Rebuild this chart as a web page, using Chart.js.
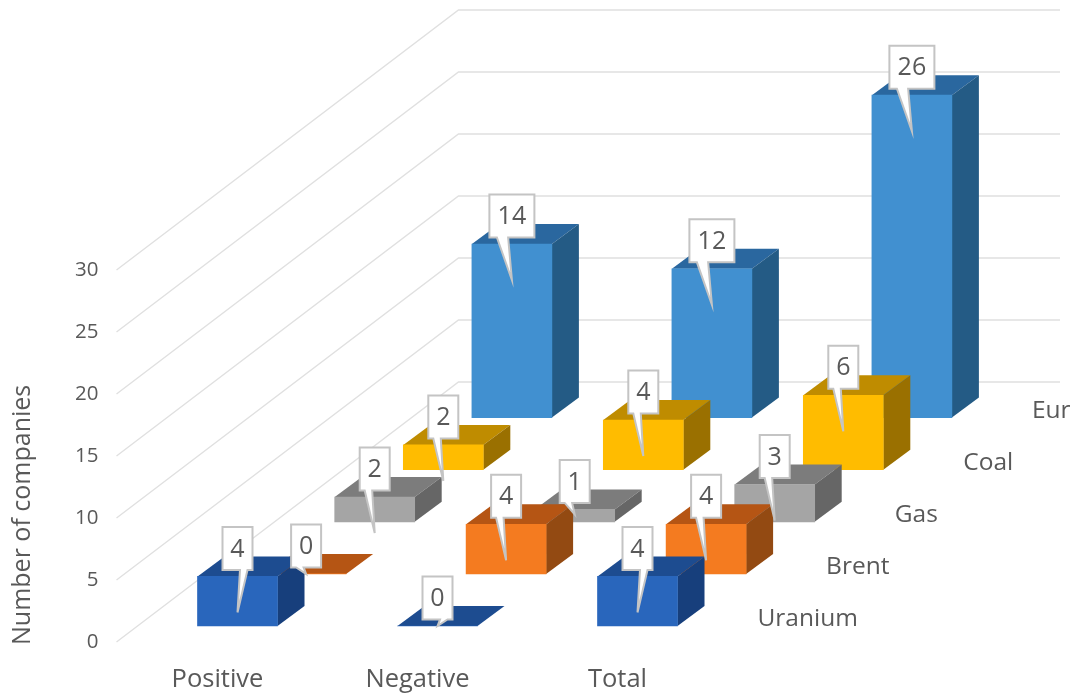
<!DOCTYPE html>
<html>
<head>
<meta charset="utf-8">
<title>Number of companies</title>
<script src="https://cdn.jsdelivr.net/npm/chart.js@4"></script>
<style>
  html, body { margin: 0; padding: 0; background: #fff; }
  canvas { display: block; }
</style>
</head>
<body>
<canvas id="chart" width="1070" height="695"></canvas>
<script>
const categories = ["Positive", "Negative", "Total"];
const seriesNames = ["Uranium", "Brent", "Gas", "Coal", "Eur"];
const uranium = [4, 0, 4];
const brent = [0, 4, 4];
const gas = [2, 1, 3];
const coal = [2, 4, 6];
const eur = [14, 12, 26];
const yTicks = [0, 5, 10, 15, 20, 25, 30];

const seriesValues = [uranium, brent, gas, coal, eur];
const frontColors = ["#2966BC", "#F47B20", "#A5A5A5", "#FFBC00", "#4190D0"];
const topColors = ["#1D4C90", "#B55514", "#7C7C7C", "#BF8C00", "#2A679F"];
const sideColors = ["#173F7C", "#934A12", "#666666", "#9A7000", "#245B85"];

const TEXT = "#595959";
const FONT = '"Open Sans"';

// offset of each row going back into the picture
function rowX(i) { return 20 + 68.6 * i; }
function rowY(i) { return -16 - 52.1 * i; }
const BOX_DX = 27, BOX_DY = -20; // depth of one bar
const WALL_DX = 342, WALL_DY = -260, WALL_END = 1060;

function face(ctx, pts, color) {
  ctx.beginPath();
  pts.forEach((p, i) => (i ? ctx.lineTo(p[0], p[1]) : ctx.moveTo(p[0], p[1])));
  ctx.closePath();
  ctx.fillStyle = color;
  ctx.fill();
}

// white callout with a tail, the tail points at the bar
function callout(ctx, text, cx, top, value, tailRight) {
  ctx.font = "25px " + FONT;
  const w = text.length > 1 ? 45 : 30;
  const h = 43;
  const x = cx - w / 2, y = top - 49.5;
  const drop = value >= 2 ? 36 : value === 1 ? 5 : 0;
  const b1 = x + w * (tailRight ? 7 / 12 : 1 / 6);
  const b2 = x + w * (tailRight ? 5 / 6 : 5 / 12);
  ctx.beginPath();
  ctx.moveTo(x, y);
  ctx.lineTo(x + w, y);
  ctx.lineTo(x + w, y + h);
  ctx.lineTo(b2, y + h);
  ctx.lineTo(cx, top + drop);
  ctx.lineTo(b1, y + h);
  ctx.lineTo(x, y + h);
  ctx.closePath();
  ctx.fillStyle = "#fff";
  ctx.fill();
  ctx.strokeStyle = "#C4C4C4";
  ctx.lineWidth = 2;
  ctx.stroke();
  ctx.fillStyle = TEXT;
  ctx.textAlign = "center";
  ctx.textBaseline = "middle";
  ctx.fillText(text, cx, y + h / 2 + 1);
}

const depthPlugin = {
  id: "depth",
  // the slanted grid on the side wall and the back wall
  beforeDatasetsDraw(chart) {
    const { ctx, scales } = chart;
    ctx.save();
    ctx.strokeStyle = "#E0E0E0";
    ctx.lineWidth = 1.4;
    yTicks.forEach((t) => {
      const y = scales.y.getPixelForValue(t);
      const x = scales.x.left - 1;
      ctx.beginPath();
      ctx.moveTo(x, y);
      ctx.lineTo(x + WALL_DX, y + WALL_DY);
      ctx.lineTo(WALL_END, y + WALL_DY);
      ctx.stroke();
    });
    ctx.restore();
  },
  // shift each row back, top and side go under the front face
  beforeDatasetDraw(chart, args) {
    const { ctx } = chart;
    const i = args.index;
    ctx.save();
    ctx.translate(rowX(i), rowY(i));
    args.meta.data.forEach((bar) => {
      const l = bar.x - bar.width / 2, r = bar.x + bar.width / 2;
      face(ctx, [[l, bar.y], [r, bar.y], [r + BOX_DX, bar.y + BOX_DY], [l + BOX_DX, bar.y + BOX_DY]], topColors[i]);
      if (bar.base - bar.y > 0.5) {
        face(ctx, [[r, bar.y], [r + BOX_DX, bar.y + BOX_DY], [r + BOX_DX, bar.base + BOX_DY], [r, bar.base]], sideColors[i]);
      }
    });
  },
  afterDatasetDraw(chart) {
    chart.ctx.restore();
  },
  // value callouts and row names on top of all the bars
  afterDatasetsDraw(chart) {
    const { ctx, scales } = chart;
    ctx.save();
    for (let i = seriesNames.length - 1; i >= 0; i--) {
      const meta = chart.getDatasetMeta(i);
      meta.data.forEach((bar, j) => {
        callout(ctx, String(seriesValues[i][j]), bar.x + rowX(i), bar.y + rowY(i), seriesValues[i][j], i === 0);
      });
      ctx.font = "24.5px " + FONT;
      ctx.fillStyle = TEXT;
      ctx.textAlign = "left";
      ctx.textBaseline = "middle";
      const lx = scales.x.getPixelForValue(categories.length - 1) + rowX(i) + 120;
      const ly = scales.y.getPixelForValue(0) + rowY(i) - 7;
      ctx.fillText(seriesNames[i], lx, ly);
    }
    ctx.restore();
  },
};

new Chart(document.getElementById("chart").getContext("2d"), {
  type: "bar",
  data: {
    labels: categories,
    datasets: seriesNames.map((name, i) => ({
      label: name,
      data: seriesValues[i],
      backgroundColor: frontColors[i],
      borderWidth: 0,
      grouped: false,
      barThickness: 80,
      clip: false,
    })),
  },
  plugins: [depthPlugin],
  options: {
    responsive: false,
    animation: false,
    layout: { padding: { top: 270, right: 352.5, left: 0, bottom: 0 } },
    plugins: { legend: { display: false }, tooltip: { enabled: false } },
    scales: {
      x: {
        grid: { display: false, drawTicks: false },
        border: { display: false },
        ticks: { color: TEXT, padding: 19, maxRotation: 0, font: { family: FONT, size: 25.5 } },
        afterFit(scale) { scale.height = 50; },
      },
      y: {
        // slightly below zero so the axis title ends where it does in the original
        min: -0.24,
        max: 30,
        grid: { display: false, drawTicks: false },
        border: { display: false },
        afterBuildTicks(scale) { scale.ticks = yTicks.map((v) => ({ value: v })); },
        ticks: { color: TEXT, padding: 19, font: { family: FONT, size: 20.5 } },
        title: {
          display: true,
          text: "Number of companies",
          align: "start",
          color: TEXT,
          padding: { top: 8 },
          font: { family: FONT, size: 25 },
        },
        afterFit(scale) { scale.width = 117.5; },
      },
    },
  },
});
</script>
</body>
</html>
